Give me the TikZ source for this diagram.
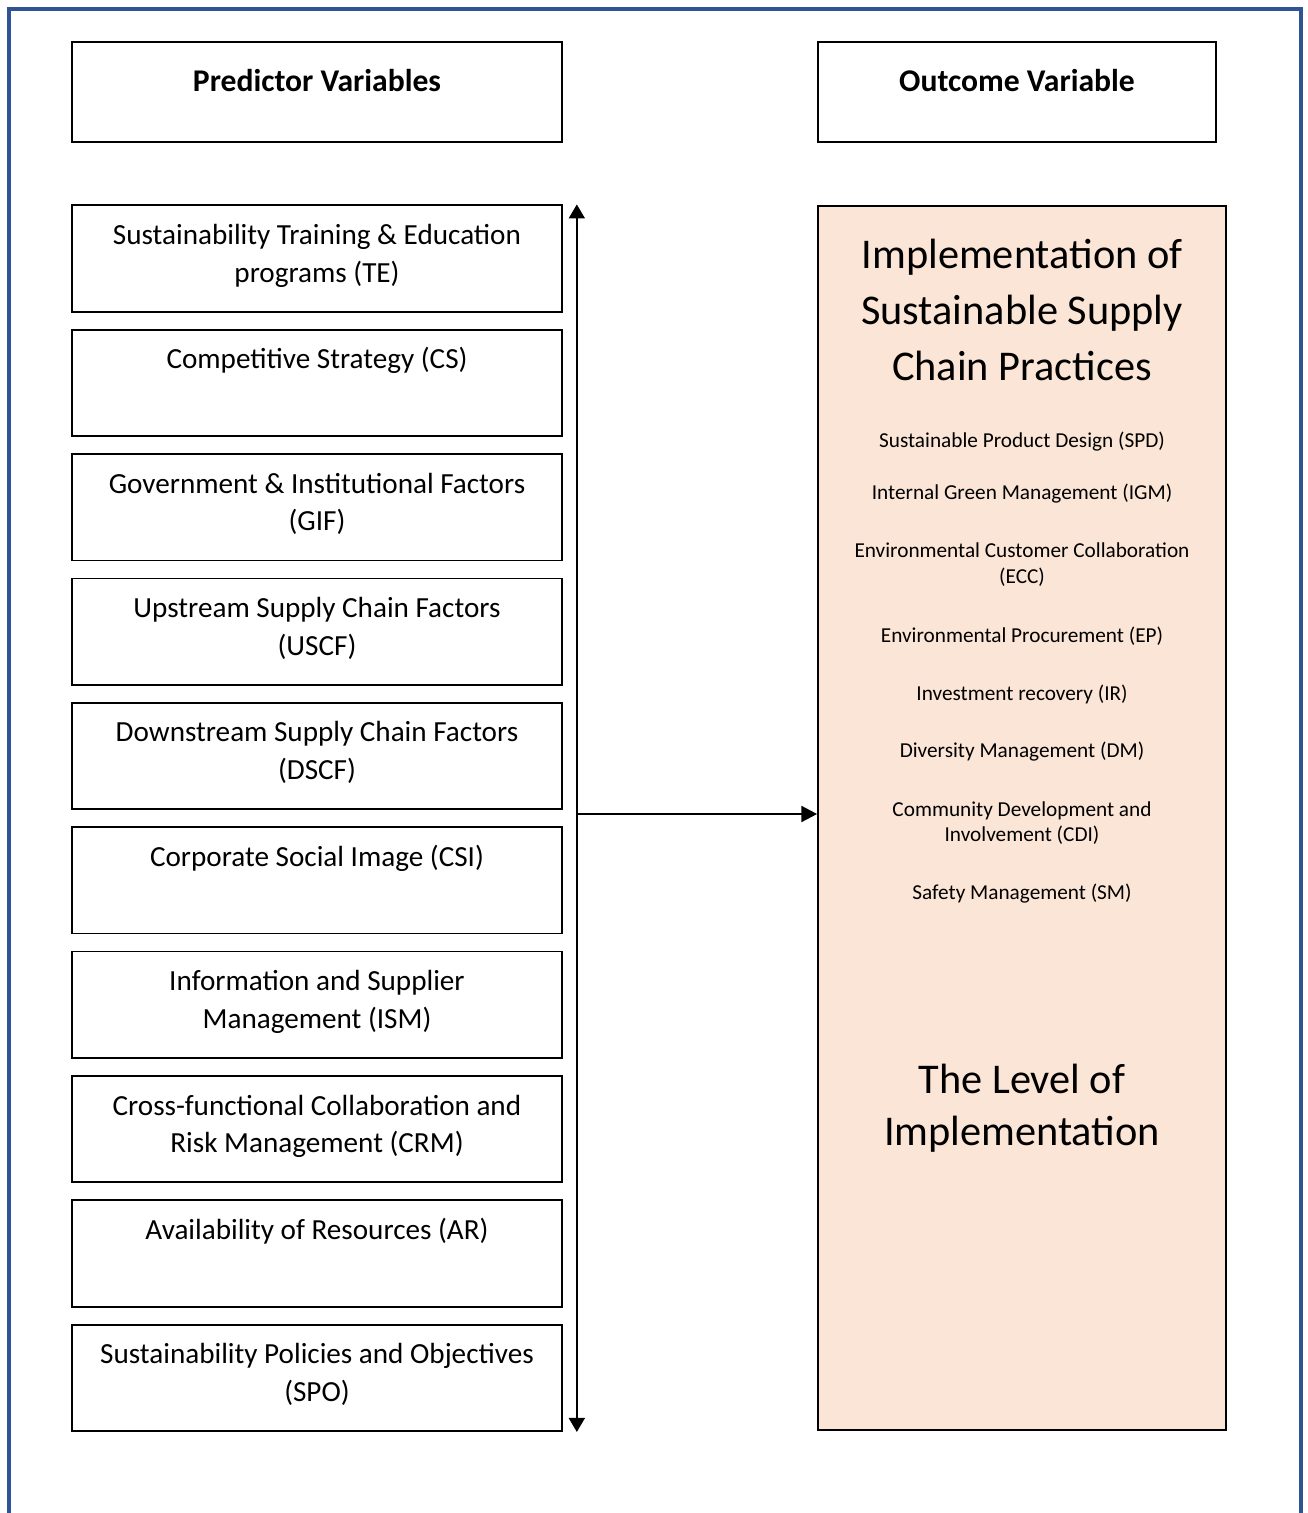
\documentclass[tikz,border=0pt]{standalone}
\usepackage{fontspec}
\setmainfont{Carlito}
\usetikzlibrary{arrows.meta, positioning, calc}
\definecolor{frameblue}{RGB}{47,84,150}
\definecolor{outpeach}{RGB}{251,229,214}
\newcommand{\toplines}[1]{\begin{tabular}[t]{@{}c@{}}#1\end{tabular}}

\begin{document}
\begin{tikzpicture}[x=0.02cm, y=-0.02cm, node distance=0.323cm,
  head/.style={rectangle, draw=black, line width=1pt, minimum width=9.8cm, inner ysep=0pt, text height=27.8pt, text depth=28.9pt, font=\fontsize{18}{22}\selectfont\bfseries},
  pred/.style={rectangle, draw=black, line width=1pt, minimum width=9.8cm, inner ysep=0pt, text height=22.3pt, text depth=38.3pt, font=\fontsize{16.6}{21.5}\selectfont},
  item/.style={align=center, font=\fontsize{12.1}{14.7}\selectfont},
  big/.style={align=center, font=\fontsize{24.1}{31.7}\selectfont},
  arr/.style={-{Triangle[length=9pt, width=9pt]}, line width=1.4pt},
  dblarr/.style={{Triangle[length=8pt, width=9pt]}-{Triangle[length=8pt, width=9pt]}, line width=1.4pt}
]
\useasboundingbox (0,0) rectangle (1307,1513);
\draw[frameblue, line width=2pt] (9,1513) |- (1301,9) -- (1301,1513);

% headers
\node[head] (predhead) at (317,92) {Predictor Variables};
\node[head, minimum width=7.96cm] (outhead) at (1017,92) {Outcome Variable};

% predictor boxes
\node[pred] (te) at (317,258.5) {\toplines{Sustainability Training \& Education\\programs (TE)}};
\node[pred, below=of te] (cs) {\toplines{Competitive Strategy (CS)}};
\node[pred, below=of cs] (gif) {\toplines{Government \& Institutional Factors\\(GIF)}};
\node[pred, below=of gif] (uscf) {\toplines{Upstream Supply Chain Factors\\(USCF)}};
\node[pred, below=of uscf] (dscf) {\toplines{Downstream Supply Chain Factors\\(DSCF)}};
\node[pred, below=of dscf] (csi) {\toplines{Corporate Social Image (CSI)}};
\node[pred, below=of csi] (ism) {\toplines{Information and Supplier\\Management (ISM)}};
\node[pred, below=of ism] (crm) {\toplines{Cross-functional Collaboration and\\Risk Management (CRM)}};
\node[pred, below=of crm] (ar) {\toplines{Availability of Resources (AR)}};
\node[pred, below=of ar] (spo) {\toplines{Sustainability Policies and Objectives\\(SPO)}};

% outcome box
\node[rectangle, draw=black, line width=1pt, fill=outpeach, minimum width=8.16cm, minimum height=24.48cm] (outcome) at (1022,818) {};
\node[big] (title) at (1022,310) {Implementation of\\Sustainable Supply\\Chain Practices};
\node[item] (spd) at (1022,442) {Sustainable Product Design (SPD)};
\node[item] (igm) at (1022,494) {Internal Green Management (IGM)};
\node[item] (ecc) at (1022,565) {Environmental Customer Collaboration\\(ECC)};
\node[item] (ep) at (1022,636) {Environmental Procurement (EP)};
\node[item] (ir) at (1022,694) {Investment recovery (IR)};
\node[item] (dm) at (1022,752) {Diversity Management (DM)};
\node[item] (cdi) at (1022,823) {Community Development and\\Involvement (CDI)};
\node[item] (sm) at (1022,894) {Safety Management (SM)};
\node[big, font=\fontsize{24.1}{29.5}\selectfont] (level) at (1022,1108) {The Level of\\Implementation};

% connectors
\coordinate (uptip) at ($(te.north east)+(14,0)$);
\coordinate (downtip) at ($(spo.south east)+(14,0)$);
\draw[dblarr] (downtip) -- (uptip);
\coordinate (fork) at (576,814);
\draw[arr] (fork) -- (fork -| outcome.west);
\end{tikzpicture}
\end{document}
